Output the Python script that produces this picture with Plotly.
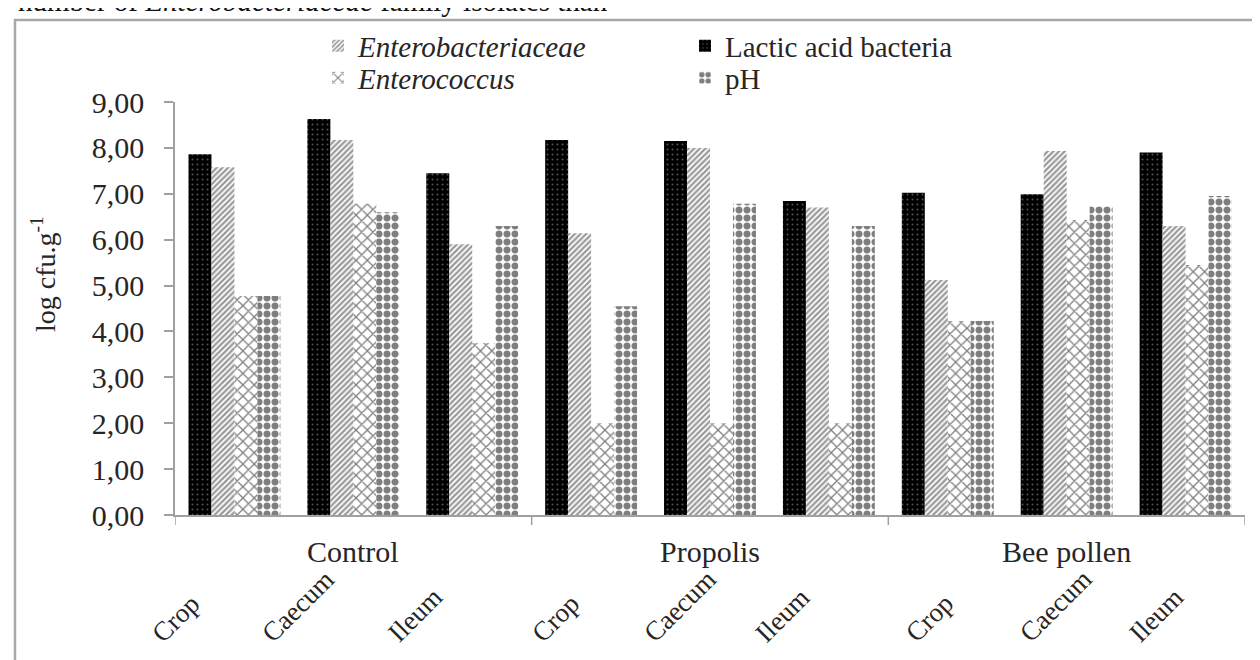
import plotly.graph_objects as go

# ---- data ----
groups = ["Control", "Propolis", "Bee pollen"]
sites = ["Crop", "Caecum", "Ileum"]
lab = [7.86, 8.63, 7.45, 8.17, 8.15, 6.84, 7.02, 6.99, 7.90]
entb = [7.58, 8.17, 5.90, 6.14, 8.00, 6.70, 5.12, 7.93, 6.30]
entc = [4.77, 6.78, 3.75, 2.00, 2.00, 2.00, 4.23, 6.43, 5.45]
ph = [4.77, 6.60, 6.30, 4.55, 6.78, 6.30, 4.23, 6.73, 6.95]
yticks = [0, 1, 2, 3, 4, 5, 6, 7, 8, 9]

cats = [f"{g}|{s}" for g in groups for s in sites]

# ---- layout constants ----
W, H = 1260, 660
L, R, T, B = 167, 23, 94, 153
PW, PH = W - L - R, H - T - B
FONT = "Liberation Serif"
TXT = "#262626"
AX = "#a0a0a0"
FS = 30


def px_x(p):
    return (p - L) / PW


def px_y(p):
    return (H - B - p) / PH


fig = go.Figure()

fig.add_trace(go.Bar(
    x=cats, y=lab, name="Lactic acid bacteria", legend="legend2",
    marker=dict(color="#000000", line=dict(width=0),
                pattern=dict(shape=".", fgcolor="#aaaaaa", bgcolor="#000000",
                             size=5, solidity=0.12, fillmode="overlay")),
))
fig.add_trace(go.Bar(
    x=cats, y=entb, name="<i>Enterobacteriaceae</i>", legend="legend",
    marker=dict(color="#ffffff", line=dict(width=0),
                pattern=dict(shape="/", fgcolor="#333333", bgcolor="#ffffff",
                             size=4, solidity=0.55, fillmode="overlay")),
))
fig.add_trace(go.Bar(
    x=cats, y=entc, name="<i>Enterococcus</i>", legend="legend3",
    marker=dict(color="#ffffff", line=dict(width=0),
                pattern=dict(shape="x", fgcolor="#000000", bgcolor="#ffffff",
                             size=8, solidity=0.3, fillmode="overlay")),
))
fig.add_trace(go.Bar(
    x=cats, y=ph, name="pH", legend="legend4",
    marker=dict(color="#ffffff", line=dict(width=0),
                pattern=dict(shape=".", fgcolor="#000000", bgcolor="#ffffff",
                             size=8, solidity=0.6, fillmode="overlay")),
))
for tr in fig.data:
    tr.showlegend = True

annotations = []
# sub-category labels (rotated)
sub_shift = [-58, -55, -57, -35, -30, -46, -18, -11, -29]
for i, c in enumerate(cats):
    annotations.append(dict(
        x=c, xref="x", y=px_y(643), yref="paper", text=c.split("|")[1],
        textangle=-45, xanchor="center", yanchor="bottom", xshift=sub_shift[i],
        showarrow=False, font=dict(family=FONT, size=27, color=TXT)))
# group labels
for gi, g in enumerate(groups):
    annotations.append(dict(
        x=cats[gi * 3 + 1], xref="x", y=px_y(543), yref="paper", text=g,
        xanchor="center", yanchor="middle", showarrow=False,
        font=dict(family=FONT, size=FS, color=TXT)))
# y-axis title
annotations.append(dict(
    x=px_x(35), xref="paper", y=px_y(266), yref="paper",
    text="log cfu.g<sup>-1</sup>", textangle=-90, showarrow=False,
    xanchor="center", yanchor="middle",
    font=dict(family=FONT, size=28, color=TXT)))
# cut-off line of body text above the figure
annotations.append(dict(
    x=px_x(602), xref="paper", y=px_y(11), yref="paper",
    text="number of <i>Enterobacteriaceae</i> family isolates than",
    xanchor="right", yanchor="bottom", showarrow=False,
    font=dict(family=FONT, size=29, color="#111111")))

shapes = []
# group divider ticks below the x axis
for pos in [-0.5, 2.5, 5.5, 8.5]:
    shapes.append(dict(type="line", xref="x", yref="paper", x0=pos, x1=pos,
                       y0=0, y1=-10 / PH, line=dict(color=AX, width=1.5)))
# outer frame
shapes.append(dict(type="rect", xref="paper", yref="paper",
                   x0=px_x(7), x1=px_x(1264), y0=px_y(664), y1=px_y(12),
                   line=dict(color="#a8a8a8", width=2.5), fillcolor="rgba(0,0,0,0)"))


def leg(xp, yp):
    return dict(x=px_x(xp), y=px_y(yp), xanchor="left", yanchor="middle",
                xref="paper", yref="paper", bgcolor="rgba(0,0,0,0)",
                font=dict(family=FONT, size=29, color=TXT),
                itemwidth=30, tracegroupgap=0, visible=True)


fig.update_layout(
    width=W, height=H,
    margin=dict(l=L, r=R, t=T, b=B),
    paper_bgcolor="white", plot_bgcolor="white",
    separators=",.",
    showlegend=True,
    barmode="group", bargap=0.227, bargroupgap=0,
    font=dict(family=FONT, size=FS, color=TXT),
    xaxis=dict(type="category", showticklabels=False, ticks="",
               showline=True, linecolor=AX, linewidth=1.5, showgrid=False,
               range=[-0.5, 8.5], zeroline=False),
    yaxis=dict(range=[0, 9], tickvals=yticks, tickformat=".2f",
               showline=True, linecolor=AX, linewidth=1.5, showgrid=False,
               ticks="outside", ticklen=9, tickcolor=AX, tickwidth=1.5,
               ticklabelstandoff=14, zeroline=False,
               tickfont=dict(family=FONT, size=FS, color=TXT)),
    legend=leg(310, 38),
    legend2=leg(677, 38),
    legend3=leg(310, 70),
    legend4=leg(677, 70),
    annotations=annotations,
    shapes=shapes,
)

fig.write_html("out.html")
